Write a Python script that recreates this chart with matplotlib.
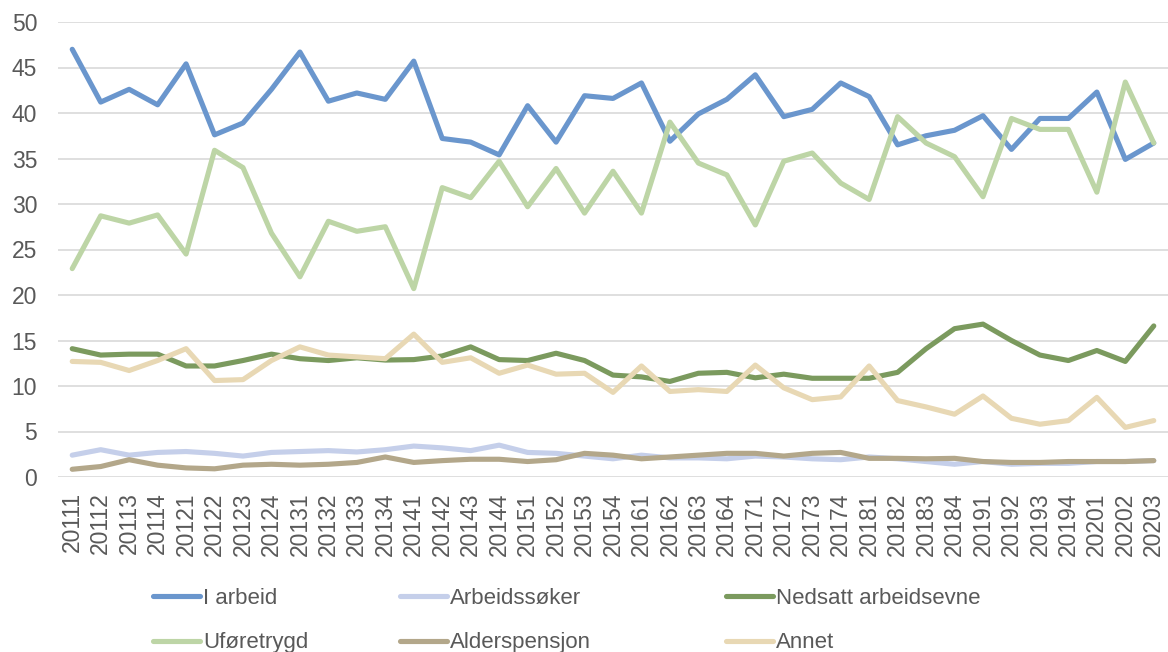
import matplotlib.pyplot as plt

plt.rcParams["font.family"] = ["Liberation Sans", "DejaVu Sans"]

# kvartaler 2011K1 - 2020K3
quarters = [
    "20111", "20112", "20113", "20114",
    "20121", "20122", "20123", "20124",
    "20131", "20132", "20133", "20134",
    "20141", "20142", "20143", "20144",
    "20151", "20152", "20153", "20154",
    "20161", "20162", "20163", "20164",
    "20171", "20172", "20173", "20174",
    "20181", "20182", "20183", "20184",
    "20191", "20192", "20193", "20194",
    "20201", "20202", "20203",
]

i_arbeid = [
    47.0, 41.2, 42.6, 40.9, 45.4, 37.6, 38.9, 42.6, 46.7, 41.3,
    42.2, 41.5, 45.7, 37.2, 36.8, 35.4, 40.8, 36.8, 41.9, 41.6,
    43.3, 36.9, 39.9, 41.5, 44.2, 39.6, 40.4, 43.3, 41.8, 36.5,
    37.5, 38.1, 39.7, 36.0, 39.4, 39.4, 42.3, 34.9, 36.7,
]
arbeidssoker = [
    2.4, 3.0, 2.4, 2.7, 2.8, 2.6, 2.3, 2.7, 2.8, 2.9,
    2.75, 3.0, 3.4, 3.2, 2.9, 3.5, 2.7, 2.6, 2.3, 2.0,
    2.4, 2.1, 2.1, 2.0, 2.3, 2.2, 2.0, 1.9, 2.2, 2.0,
    1.7, 1.4, 1.7, 1.4, 1.5, 1.5, 1.7, 1.7, 1.8,
]
nedsatt = [
    14.1, 13.4, 13.5, 13.5, 12.2, 12.2, 12.8, 13.5, 13.0, 12.8,
    13.1, 12.85, 12.9, 13.3, 14.3, 12.9, 12.8, 13.6, 12.8, 11.2,
    11.0, 10.5, 11.4, 11.5, 10.9, 11.3, 10.85, 10.85, 10.85, 11.5,
    14.1, 16.3, 16.8, 15.0, 13.4, 12.8, 13.9, 12.7, 16.6,
]
uforetrygd = [
    22.9, 28.7, 27.9, 28.8, 24.5, 35.9, 34.0, 26.8, 22.0, 28.1,
    27.0, 27.5, 20.7, 31.8, 30.7, 34.7, 29.7, 33.9, 29.0, 33.6,
    29.0, 39.0, 34.5, 33.2, 27.7, 34.7, 35.6, 32.3, 30.5, 39.6,
    36.7, 35.2, 30.8, 39.4, 38.2, 38.2, 31.3, 43.4, 36.7,
]
alderspensjon = [
    0.85, 1.15, 1.9, 1.3, 1.0, 0.9, 1.3, 1.4, 1.3, 1.4,
    1.6, 2.2, 1.6, 1.8, 1.95, 1.95, 1.7, 1.9, 2.6, 2.4,
    2.0, 2.2, 2.4, 2.6, 2.6, 2.3, 2.6, 2.7, 2.05, 2.05,
    2.0, 2.05, 1.7, 1.6, 1.6, 1.7, 1.7, 1.7, 1.8,
]
annet = [
    12.7, 12.6, 11.7, 12.8, 14.1, 10.6, 10.7, 12.8, 14.3, 13.4,
    13.2, 13.0, 15.7, 12.6, 13.1, 11.4, 12.3, 11.3, 11.4, 9.3,
    12.2, 9.4, 9.6, 9.4, 12.3, 9.8, 8.5, 8.8, 12.2, 8.4,
    7.7, 6.9, 8.9, 6.45, 5.8, 6.2, 8.75, 5.45, 6.2,
]

series = [
    ("I arbeid", i_arbeid, "#6A96CD"),
    ("Arbeidssøker", arbeidssoker, "#C5CFEA"),
    ("Nedsatt arbeidsevne", nedsatt, "#7B9A5E"),
    ("Uføretrygd", uforetrygd, "#BDD5A6"),
    ("Alderspensjon", alderspensjon, "#B3A78A"),
    ("Annet", annet, "#E8D8B4"),
]

text_color = "#595959"
fs = 16.5

fig = plt.figure(figsize=(11.68, 6.52), dpi=100)
ax = fig.add_axes([58 / 1168, 1 - 477 / 652, 1110 / 1168, 455 / 652])

x = list(range(len(quarters)))
lines = []
for name, vals, color in series:
    (ln,) = ax.plot(x, vals, color=color, lw=3.7, label=name,
                    solid_joinstyle="round", solid_capstyle="round")
    lines.append(ln)

ax.set_xlim(-0.5, len(quarters) - 0.5)
ax.set_ylim(0, 50)
ax.set_yticks(range(0, 51, 5))
ax.set_xticks(x)
ax.set_xticklabels(quarters, rotation=90)
ax.tick_params(axis="both", length=0, labelsize=fs, labelcolor=text_color)
ax.tick_params(axis="y", pad=15)
ax.tick_params(axis="x", pad=11)
ax.grid(axis="y", color="#D9D9D9", lw=1.2)
ax.set_axisbelow(True)
for s in ax.spines.values():
    s.set_visible(False)

# legend: tre kolonner, to rader
col_x = [153, 400, 726]
for c in range(3):
    hs = [lines[c], lines[c + 3]]
    lg = fig.legend(
        hs, [h.get_label() for h in hs],
        loc="upper left", bbox_to_anchor=(col_x[c] / 1168, 1 - 588 / 652),
        ncol=1, frameon=False, fontsize=16, handlelength=2.1,
        handletextpad=0.15, labelspacing=1.05, borderaxespad=0, borderpad=0,
    )
    for t in lg.get_texts():
        t.set_color(text_color)

fig.savefig("out.png", dpi=100)
